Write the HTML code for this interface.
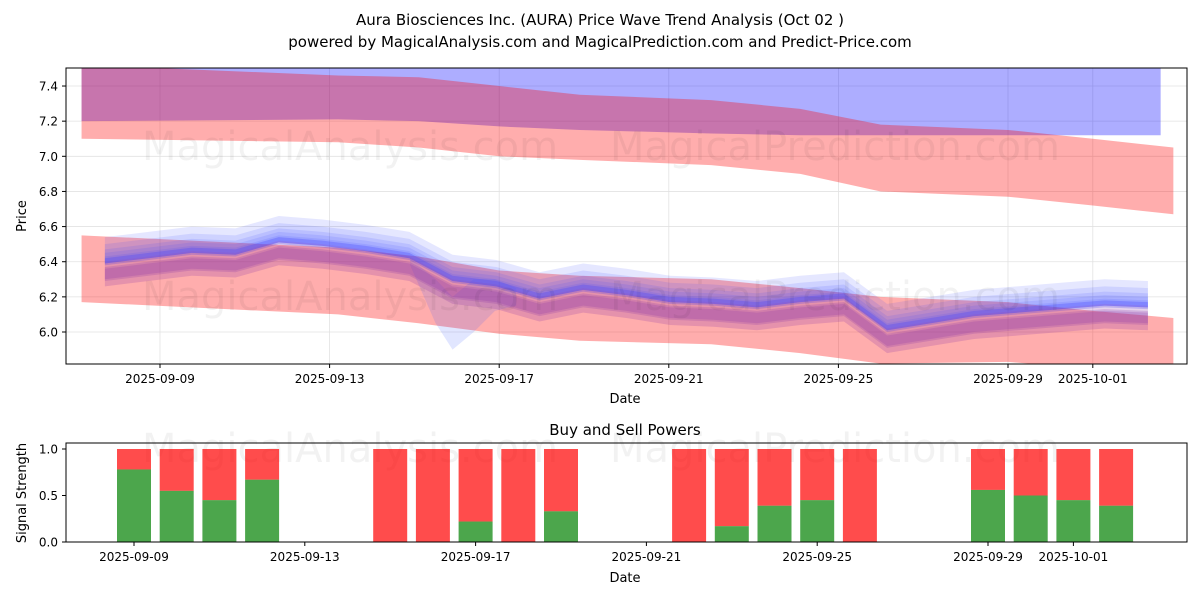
<!DOCTYPE html>
<html><head><meta charset="utf-8"><style>
body{margin:0;background:#fff;font-family:"DejaVu Sans","Liberation Sans",sans-serif;}
svg text{font-family:"DejaVu Sans","Liberation Sans",sans-serif;fill:#000}
</style></head><body>
<svg id="c" width="1200" height="600" xmlns="http://www.w3.org/2000/svg">
<rect width="1200" height="600" fill="#fff"/>
<text x="600" y="25" text-anchor="middle" font-size="15">Aura Biosciences Inc. (AURA) Price Wave Trend Analysis (Oct 02 )</text>
<text x="600" y="47" text-anchor="middle" font-size="15">powered by MagicalAnalysis.com and MagicalPrediction.com and Predict-Price.com</text>
<g id="topg"></g>
<g id="botg"></g>
</svg>
<script>
// ---- data ----
const waveDays=[-1.3,-0.27,0.75,1.78,2.8,3.83,4.85,5.88,6.9,7.93,8.95,9.98,11.0,12.03,13.05,14.08,15.1,16.13,17.15,18.18,19.2,20.23,21.25,22.28,23.3];
const waveCenter=[6.40,6.43,6.46,6.45,6.52,6.50,6.47,6.43,6.30,6.27,6.20,6.25,6.22,6.18,6.17,6.15,6.18,6.20,6.02,6.06,6.10,6.12,6.14,6.16,6.15];
const bandDays=[-1.85,4.2,6.1,8.0,9.9,13,15.1,17,20,22,23.9];
const upperRedTop=[7.52,7.46,7.45,7.40,7.35,7.32,7.27,7.18,7.15,7.10,7.05];
const upperRedBot=[7.10,7.08,7.05,7.00,6.98,6.95,6.90,6.80,6.77,6.72,6.67];
const blueDays=[-1.85,4.2,6.1,8.0,9.9,13,15.1,17,20,22,23.6];
const upperBlueBot=[7.20,7.21,7.20,7.17,7.15,7.13,7.12,7.12,7.12,7.12,7.12];
const lowerRedTop=[6.55,6.48,6.43,6.35,6.32,6.30,6.25,6.20,6.17,6.12,6.08];
const lowerRedBot=[6.17,6.10,6.05,5.99,5.95,5.93,5.88,5.82,5.83,5.79,5.75];
const dipDays=[5.9,6.5,6.9,7.4,7.9,8.4];
const dipTop=[6.42,6.3,6.2,6.3,6.3,6.25];
const dipBot=[6.38,6.05,5.9,6.0,6.12,6.15];
const yTicks=[6.0,6.2,6.4,6.6,6.8,7.0,7.2,7.4];
const xTickDays=[0,4,8,12,16,20,22];
const xTickLabels=["2025-09-09","2025-09-13","2025-09-17","2025-09-21","2025-09-25","2025-09-29","2025-10-01"];
const barDays=[0,1,2,3,6,7,8,9,10,13,14,15,16,17,20,21,22,23];
const buyPower=[0.78,0.55,0.45,0.67,0,0,0.22,0,0.33,0,0.17,0.39,0.45,0,0.56,0.5,0.45,0.39];
const sTicks=[0.0,0.5,1.0];

const NS="http://www.w3.org/2000/svg";
function mk(tag,attrs,parent){const e=document.createElementNS(NS,tag);for(const k in attrs)e.setAttribute(k,attrs[k]);parent.appendChild(e);return e;}
const gTop=document.getElementById('topg'),gBot=document.getElementById('botg');
const L=66,R=1187,T=68,B=364;
const X=d=>160+d*42.4;
const Y=v=>332-(v-6.0)*175.7;
const BT=443,BB=542;
const X2=d=>134+d*42.7;
const Y2=v=>BB-v*93;

const defs=mk('defs',{},gTop);
const cp=mk('clipPath',{id:'cp'},defs);mk('rect',{x:L,y:T,width:R-L,height:B-T},cp);

yTicks.forEach(v=>{mk('line',{x1:L,x2:R,y1:Y(v),y2:Y(v),stroke:'#e2e2e2','stroke-width':0.8},gTop);
 const t=mk('text',{x:L-8,y:Y(v)+4.5,'text-anchor':'end','font-size':12},gTop);t.textContent=v.toFixed(1);
 
 
 mk('line',{x1:L-4,x2:L,y1:Y(v),y2:Y(v),stroke:'#000'},gTop);});
xTickDays.forEach((d,i)=>{mk('line',{x1:X(d),x2:X(d),y1:T,y2:B,stroke:'#e2e2e2','stroke-width':0.8},gTop);
 mk('line',{x1:X(d),x2:X(d),y1:B,y2:B+4,stroke:'#000'},gTop);
 const t=mk('text',{x:X(d),y:B+19,'text-anchor':'middle','font-size':12},gTop);t.textContent=xTickLabels[i];
 
 });

const g=mk('g',{'clip-path':'url(#cp)'},gTop);
function band(days,hi,lo,fill,op,name){
 let p=days.map((d,i)=>X(d)+','+Y(hi[i])).join(' ')+' '+days.map((d,i)=>X(d)+','+Y(lo[i])).reverse().join(' ');
 const e=mk('polygon',{points:p,fill:fill,'fill-opacity':op},g);
 
 }
const ubTop=blueDays.map(()=>7.7);
band(blueDays,ubTop,upperBlueBot,'#0000ff',0.32,'upper-blue-band');
band(bandDays,upperRedTop,upperRedBot,'#ff0000',0.32,'upper-red-band');
band(bandDays,lowerRedTop,lowerRedBot,'#ff0000',0.32,'lower-red-band');
const spreads=[[0.14,0.02],[0.10,0.0],[0.07,0.02],[0.05,0.01],[0.03,0.01]];
spreads.forEach(s=>band(waveDays,waveCenter.map(v=>v+s[0]),waveCenter.map(v=>v-s[1]),'#3344ff',0.13,'blue-wave-band'));
band(dipDays,dipTop,dipBot,'#3355ff',0.15,'blue-wave-dip');
const pspreads=[[0.03,0.14],[0.0,0.10],[0.04,0.06],[0.06,0.11]];
pspreads.forEach(s=>band(waveDays,waveCenter.map(v=>v-s[0]),waveCenter.map(v=>v-s[1]),'#8833aa',0.22,'purple-wave-band'));
band(waveDays,waveCenter.map(v=>v+0.02),waveCenter.map(v=>v-0.01),'#4444ff',0.3,'wave-core');

[[350,160,'MagicalAnalysis.com'],[835,160,'MagicalPrediction.com'],[350,310,'MagicalAnalysis.com'],[835,310,'MagicalPrediction.com'],[350,462,'MagicalAnalysis.com'],[835,462,'MagicalPrediction.com']].forEach(w=>{
 const t=mk('text',{x:w[0],y:w[1],'text-anchor':'middle','font-size':40,'fill-opacity':0.05},w[1]>400?gBot:gTop);t.textContent=w[2];
 
 });

mk('rect',{x:L,y:T,width:R-L,height:B-T,fill:'none',stroke:'#000','stroke-width':1},gTop);
let t=mk('text',{x:625,y:403,'text-anchor':'middle','font-size':13},gTop);t.textContent='Date';

t=mk('text',{x:26,y:216,'text-anchor':'middle','font-size':13,transform:'rotate(-90 26 216)'},gTop);t.textContent='Price';


sTicks.forEach(v=>{mk('line',{x1:L-4,x2:L,y1:Y2(v),y2:Y2(v),stroke:'#000'},gBot);
 const t=mk('text',{x:L-8,y:Y2(v)+4.5,'text-anchor':'end','font-size':12},gBot);t.textContent=v.toFixed(1);
 });
xTickDays.forEach((d,i)=>{mk('line',{x1:X2(d),x2:X2(d),y1:BB,y2:BB+4,stroke:'#000'},gBot);
 const t=mk('text',{x:X2(d),y:BB+19,'text-anchor':'middle','font-size':12},gBot);t.textContent=xTickLabels[i];
 });
barDays.forEach((d,i)=>{const x=X2(d)-17;
 const r=mk('rect',{x:x,y:Y2(1),width:34,height:Y2(buyPower[i])-Y2(1),fill:'#ff0000','fill-opacity':0.7},gBot);
 
 const gb=mk('rect',{x:x,y:Y2(buyPower[i]),width:34,height:Y2(0)-Y2(buyPower[i]),fill:'#008000','fill-opacity':0.7},gBot);
 });
mk('rect',{x:L,y:BT,width:R-L,height:BB-BT,fill:'none',stroke:'#000','stroke-width':1},gBot);
t=mk('text',{x:625,y:435,'text-anchor':'middle','font-size':15},gBot);t.textContent='Buy and Sell Powers';

t=mk('text',{x:625,y:582,'text-anchor':'middle','font-size':13},gBot);t.textContent='Date';

t=mk('text',{x:26,y:493,'text-anchor':'middle','font-size':13,transform:'rotate(-90 26 493)'},gBot);t.textContent='Signal Strength';

</script>
</body></html>
